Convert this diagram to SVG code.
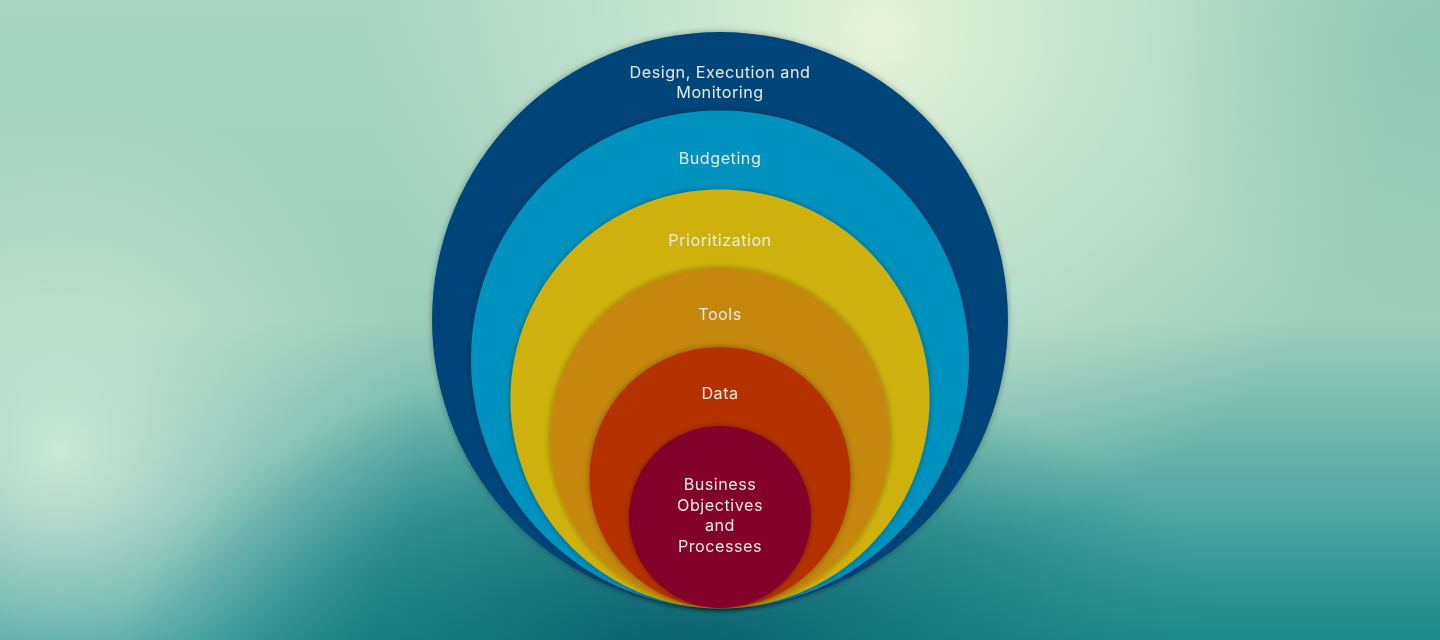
<svg xmlns="http://www.w3.org/2000/svg" width="1440" height="640" viewBox="0 0 1440 640">
<defs>
<linearGradient id="bg" x1="0" y1="0" x2="0" y2="1">
<stop offset="0" stop-color="#a6d5c3"/>
<stop offset="0.5" stop-color="#9ccfbc"/>
<stop offset="0.8" stop-color="#4fa6a0"/>
<stop offset="1" stop-color="#178a8c"/>
</linearGradient>
<radialGradient id="glowTop" cx="880" cy="30" r="520" gradientUnits="userSpaceOnUse">
<stop offset="0" stop-color="#e6f2d8" stop-opacity="1"/>
<stop offset="0.5" stop-color="#d2ead4" stop-opacity="0.6"/>
<stop offset="1" stop-color="#c8e6d2" stop-opacity="0"/>
</radialGradient>
<radialGradient id="glowLeft" cx="60" cy="450" r="360" gradientUnits="userSpaceOnUse">
<stop offset="0" stop-color="#d0eada" stop-opacity="0.95"/>
<stop offset="1" stop-color="#c8e6d2" stop-opacity="0"/>
</radialGradient>
<radialGradient id="darkBottom" cx="680" cy="660" r="560" gradientTransform="translate(680 660) scale(1 0.55) translate(-680 -660)" gradientUnits="userSpaceOnUse">
<stop offset="0" stop-color="#0a5f6e" stop-opacity="1"/>
<stop offset="0.6" stop-color="#1a7a80" stop-opacity="0.6"/>
<stop offset="1" stop-color="#2a8a8a" stop-opacity="0"/>
</radialGradient>
<radialGradient id="glowRight" cx="1440" cy="40" r="300" gradientUnits="userSpaceOnUse">
<stop offset="0" stop-color="#86c4b0" stop-opacity="0.7"/>
<stop offset="1" stop-color="#86c4b0" stop-opacity="0"/>
</radialGradient>
<filter id="sh" x="-10%" y="-10%" width="120%" height="120%">
<feGaussianBlur in="SourceAlpha" stdDeviation="3"/>
<feComponentTransfer><feFuncA type="linear" slope="0.35"/></feComponentTransfer>
<feMerge><feMergeNode/><feMergeNode in="SourceGraphic"/></feMerge>
</filter>
<style>
.lbl{font-family:Inter,"Open Sans","Liberation Sans",sans-serif;font-size:16.2px;fill:#e4ebe4;text-anchor:middle;letter-spacing:0.5px}
</style>
</defs>
<rect width="1440" height="640" fill="url(#bg)"/>
<rect width="1440" height="640" fill="url(#glowTop)"/>
<rect width="1440" height="640" fill="url(#glowLeft)"/>
<rect width="1440" height="640" fill="url(#glowRight)"/>
<rect width="1440" height="640" fill="url(#darkBottom)"/>

<g id="node-design" filter="url(#sh)">
<circle cx="720" cy="320" r="288" fill="#02457a"/>
<text class="lbl" x="720" y="78">Design, Execution and</text>
<text class="lbl" x="720" y="98">Monitoring</text>
</g>
<g id="node-budgeting" filter="url(#sh)">
<circle cx="720" cy="359.5" r="249" fill="#0592bf"/>
<text class="lbl" x="720" y="164">Budgeting</text>
</g>
<g id="node-prioritization" filter="url(#sh)">
<circle cx="720" cy="399" r="209.5" fill="#cfb10d"/>
<text class="lbl" x="720" y="246">Prioritization</text>
</g>
<g id="node-tools" filter="url(#sh)">
<circle cx="720" cy="438" r="170" fill="#c5870a"/>
<text class="lbl" x="720" y="320">Tools</text>
</g>
<g id="node-data" filter="url(#sh)">
<circle cx="720" cy="477.5" r="130.5" fill="#b53000"/>
<text class="lbl" x="720" y="399">Data</text>
</g>
<g id="node-business" filter="url(#sh)">
<circle cx="720" cy="517" r="91" fill="#82002a"/>
<text class="lbl" x="720" y="490">Business</text>
<text class="lbl" x="720" y="510.5">Objectives</text>
<text class="lbl" x="720" y="531">and</text>
<text class="lbl" x="720" y="551.5">Processes</text>
</g>
<g id="connectors"/>
</svg>
